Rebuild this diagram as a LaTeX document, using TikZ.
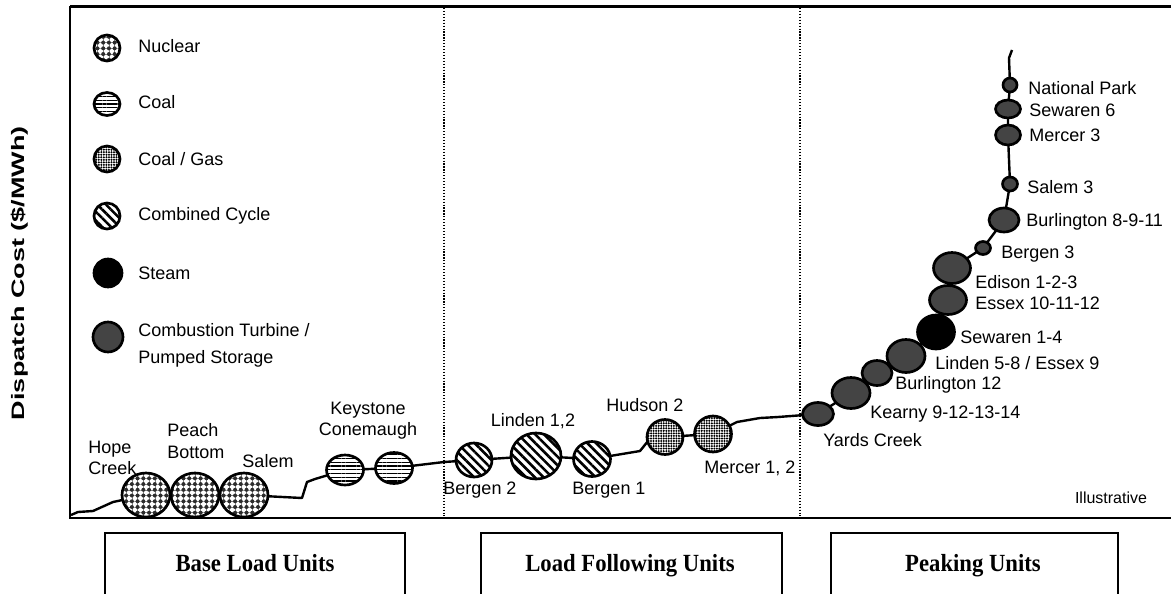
\documentclass[tikz,border=0pt]{standalone}
\usepackage{fontspec}
\setmainfont{Liberation Sans}
\newfontfamily\boxfont{Liberation Serif}
\usetikzlibrary{shapes.geometric,patterns.meta}

\definecolor{ctgray}{RGB}{68,68,68}
\definecolor{nucgray}{RGB}{45,45,45}

\tikzset{
  unit/.style={ellipse, draw, line width=2pt, inner sep=0pt, outer sep=0pt},
  nuclear/.style={unit, preaction={pattern={Hatch[distance=4.3pt, line width=0.45pt]}, pattern color=gray},
    pattern={Dots[radius=1.5pt, distance=4.3pt]}, pattern color=nucgray},
  coal/.style={unit, pattern={Lines[distance=2.8pt, line width=0.9pt]}},
  coalgas/.style={unit, pattern={Dots[radius=0.85pt, distance=1.9pt]}},
  combined/.style={unit, pattern={Lines[angle=-45, distance=4.6pt, line width=1.9pt]}},
  steam/.style={unit, fill=black},
  turbine/.style={unit, fill=ctgray},
  curve/.style={line width=1.8pt, line join=round},
  divider/.style={line width=0.9pt, dash pattern=on 0.9pt off 1.3pt},
  lbl/.style={inner sep=0pt, font=\fontsize{13.5}{16}\selectfont},
  boxline/.style={line width=1.6pt},
  boxtxt/.style={inner sep=0pt, anchor=base, font=\boxfont\bfseries\fontsize{18.5}{22}\selectfont},
}

\begin{document}
\begin{tikzpicture}[x=0.75pt,y=0.75pt,yscale=-1,xscale=1]
\clip (0,0) rectangle (1171,593);

%Frame
\draw[line width=2.2pt] (70,6.5) -- (1171,6.5);
\draw[line width=1.6pt] (70,6) -- (70,518);
\draw[line width=2.2pt] (69,518) -- (1171,518);
%Dividers
\draw[divider] (444,8) -- (444,516);
\draw[divider] (800,8) -- (800,516);

% Axis label
\node[rotate=90, inner sep=0pt, font=\bfseries\fontsize{13.5}{16}\selectfont] (ylabel) at (20,273) {\scalebox{1.5}[1]{Dispatch Cost (\$/MWh)}};

%Legend
\node[nuclear, minimum width=19.5pt, minimum height=19.5pt] (keynuc) at (107,48) {};
\node[coal, minimum width=19.5pt, minimum height=17.25pt] (keycoal) at (107,104) {};
\node[coalgas, minimum width=19.5pt, minimum height=19.5pt] (keycg) at (107,159) {};
\node[combined, minimum width=19.5pt, minimum height=19.5pt] (keycc) at (107,216) {};
\node[steam, minimum width=21pt, minimum height=21pt] (keysteam) at (108,273) {};
\node[turbine, minimum width=22.5pt, minimum height=22.5pt] (keyct) at (108,337) {};
% Text Node
\node[lbl, anchor=west] (keynuctxt) at (138,46) {Nuclear};
\node[lbl, anchor=west] (keycoaltxt) at (138,102) {Coal};
\node[lbl, anchor=west] (keycgtxt) at (138,159) {Coal / Gas};
\node[lbl, anchor=west] (keycctxt) at (138,216) {Combined Cycle};
\node[lbl, anchor=west] (keysteamtxt) at (138,273) {Steam};
\node[lbl, anchor=west, align=left, font=\fontsize{13.5}{20.25}\selectfont] (keycttxt) at (138,345) {Combustion Turbine /\\Pumped Storage};

%Base load units
\node[nuclear, minimum width=36pt, minimum height=33pt] (hope) at (146,495) {};
\node[nuclear, minimum width=36pt, minimum height=33pt] (peach) at (195,495) {};
\node[nuclear, minimum width=36pt, minimum height=33pt] (salem) at (244,495) {};
\node[coal, minimum width=27.75pt, minimum height=22.5pt] (keystone) at (345,470) {};
\node[coal, minimum width=27.75pt, minimum height=23.25pt] (conemaugh) at (394,468) {};
%Load following units
\node[combined, minimum width=27pt, minimum height=25.5pt] (bergentwo) at (474,460) {};
\node[combined, minimum width=37.5pt, minimum height=34.5pt] (linden) at (536,456) {};
\node[combined, minimum width=27.75pt, minimum height=26.25pt] (bergenone) at (592,459) {};
\node[coalgas, minimum width=27pt, minimum height=26.25pt] (hudson) at (665,437) {};
\node[coalgas, minimum width=27.75pt, minimum height=27pt] (mercer) at (713,434) {};
%Peaking units
\node[turbine, minimum width=23.25pt, minimum height=17.25pt] (yards) at (818,414) {};
\node[turbine, minimum width=28.5pt, minimum height=23.25pt] (kearny) at (851,393) {};
\node[turbine, minimum width=22.5pt, minimum height=18.75pt] (burltwelve) at (877,373) {};
\node[turbine, minimum width=28.5pt, minimum height=24.75pt] (lindenfive) at (906,356) {};
\node[steam, minimum width=27.75pt, minimum height=25.5pt] (sewarenone) at (936,332) {};
\node[turbine, minimum width=27.75pt, minimum height=21.75pt] (essex) at (948,300) {};
\node[turbine, minimum width=27.75pt, minimum height=23.25pt] (edison) at (952,268) {};
\node[turbine, minimum width=11.25pt, minimum height=9.75pt] (bergenthree) at (983,248) {};
\node[turbine, minimum width=22.5pt, minimum height=18pt] (burleight) at (1004,220) {};
\node[turbine, minimum width=11.25pt, minimum height=10.5pt] (salemthree) at (1010,184) {};
\node[turbine, minimum width=18.75pt, minimum height=15pt] (mercerthree) at (1008,135) {};
\node[turbine, minimum width=18.75pt, minimum height=13.5pt] (sewarensix) at (1008,109) {};
\node[turbine, minimum width=10.5pt, minimum height=10.5pt] (natpark) at (1010,85) {};

%Supply curve
\coordinate (start) at (71,515);
\coordinate (top) at (1012,50);
\draw[curve] (start) -- (78,512) -- (93,511) -- (113,502) -- (hope);
\draw[curve] (salem) -- (302,498) -- (307,482) -- (315,479) -- (keystone);
\draw[curve] (keystone) -- (conemaugh);
\draw[curve] (conemaugh) -- (444,462) -- (bergentwo);
\draw[curve] (bergentwo) -- (linden) -- (bergenone);
\draw[curve] (bergenone) -- (640,451) -- (648,441) -- (hudson);
\draw[curve] (hudson) -- (mercer);
\draw[curve] (mercer) -- (737,422) -- (760,418) -- (778,417) -- (yards);
\draw[curve] (yards) -- (kearny) -- (burltwelve) -- (lindenfive) -- (sewarenone) -- (essex) -- (edison)
  -- (bergenthree) -- (burleight) -- (salemthree) -- (mercerthree) -- (sewarensix) -- (natpark);
\draw[curve] (natpark) -- (1009,58) -- (top);

% Text Node
\node[lbl, anchor=west, align=left] (hopetxt) at (88,458) {Hope\\Creek};
\node[lbl, anchor=west, align=left] (peachtxt) at (167,441) {Peach\\Bottom};
\node[lbl] (salemtxt) at (268,461) {Salem};
\node[lbl, align=center] (keytxt) at (368,421) {Keystone\\Conemaugh};
\node[lbl] (bergentwotxt) at (480,490) {Bergen 2};
\node[lbl] (lindentxt) at (533,421) {Linden 1,2};
\node[lbl] (bergenonetxt) at (609,490) {Bergen 1};
\node[lbl] (hudsontxt) at (645,405) {Hudson 2};
\node[lbl] (mercertxt) at (750,468) {Mercer 1, 2};
\node[lbl, anchor=west] (natparktxt) at (1028,88) {National Park};
\node[lbl, anchor=west] (sewarensixtxt) at (1029,110) {Sewaren 6};
\node[lbl, anchor=west] (mercerthreetxt) at (1029,135) {Mercer 3};
\node[lbl, anchor=west] (salemthreetxt) at (1027,187) {Salem 3};
\node[lbl, anchor=west] (burleighttxt) at (1026,222) {Burlington 8-9-11};
\node[lbl, anchor=west] (bergenthreetxt) at (1001,254) {Bergen 3};
\node[lbl, anchor=west] (edisontxt) at (975,282) {Edison 1-2-3};
\node[lbl, anchor=west] (essextxt) at (975,303) {Essex 10-11-12};
\node[lbl, anchor=west] (sewarenonetxt) at (960,337) {Sewaren 1-4};
\node[lbl, anchor=west] (lindenfivetxt) at (935,363) {Linden 5-8 / Essex 9};
\node[lbl, anchor=west] (burltwelvetxt) at (895,385) {Burlington 12};
\node[lbl, anchor=west] (kearnytxt) at (870,414) {Kearny 9-12-13-14};
\node[lbl, anchor=west] (yardstxt) at (823,440) {Yards Creek};
\node[lbl, font=\fontsize{12}{14}\selectfont] (illustrative) at (1111,498) {Illustrative};

%Unit classes
\draw[boxline] (105,533) rectangle (405,620);
\draw[boxline] (481,533) rectangle (782,620);
\draw[boxline] (831,533) rectangle (1118,620);
\node[boxtxt] (baseload) at (255,571) {\scalebox{0.92}[1]{Base Load Units}};
\node[boxtxt] (loadfollow) at (630,571) {\scalebox{0.92}[1]{Load Following Units}};
\node[boxtxt] (peaking) at (973,571) {\scalebox{0.92}[1]{Peaking Units}};

\end{tikzpicture}
\end{document}
